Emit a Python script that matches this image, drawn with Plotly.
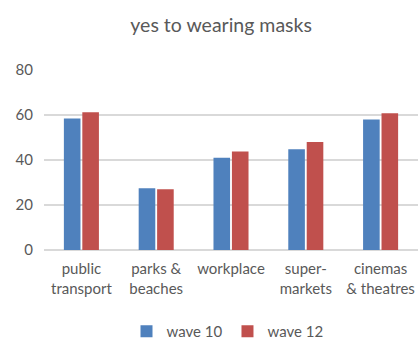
import plotly.graph_objects as go

categories = ["public<br>transport", "parks &<br>beaches", "workplace", "super-<br>markets", "cinemas<br>& theatres"]
wave10 = [58.5, 27.5, 41.0, 44.8, 58.0]
wave12 = [61.2, 27.0, 43.8, 48.0, 60.8]
y_ticks = [0, 20, 40, 60, 80]

font_family = "Lato, 'Open Sans', sans-serif"
grey = "#595959"

fig = go.Figure()
fig.add_trace(go.Bar(x=categories, y=wave10, name="wave 10", marker_color="#4F81BD", marker_line_width=0))
fig.add_trace(go.Bar(x=categories, y=wave12, name="wave 12", marker_color="#C0504D", marker_line_width=0))

fig.update_layout(
    width=418, height=340,
    margin=dict(l=44, r=0, t=70, b=90, autoexpand=False),
    paper_bgcolor="white", plot_bgcolor="white",
    barmode="group", bargap=0.507, bargroupgap=0.1,
    title=dict(text="yes to wearing masks", x=0.529, xanchor="center", y=0.925, yanchor="middle",
               font=dict(family=font_family, size=19.5, color=grey)),
    font=dict(family=font_family, size=15, color=grey),
    showlegend=True,
    legend=dict(orientation="h", x=0.2206, xanchor="left", yref="container", y=0.025, yanchor="middle",
                font=dict(size=15, color=grey)),
    xaxis=dict(showgrid=False, showline=False, ticks="", automargin=False, ticklabelstandoff=8,
               tickfont=dict(size=15, color=grey)),
    yaxis=dict(range=[0, 80], tickvals=y_ticks, showgrid=True, gridcolor="#d9d9d9", gridwidth=1.5,
               zeroline=True, zerolinecolor="#d9d9d9", zerolinewidth=1.5, automargin=False,
               ticks="", ticklabelstandoff=10, tickfont=dict(size=15, color=grey)),
)

fig.write_html("out.html")
